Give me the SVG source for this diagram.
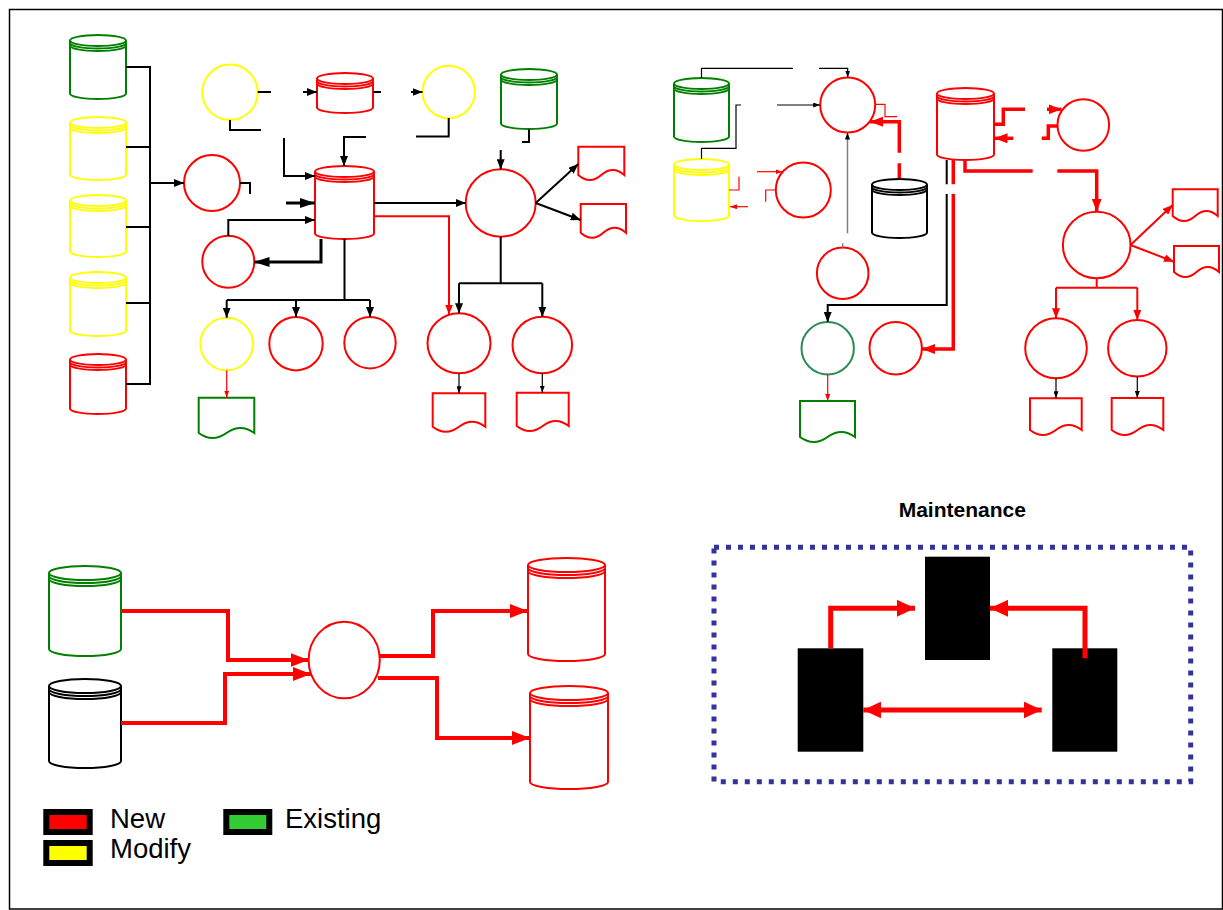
<svg xmlns="http://www.w3.org/2000/svg" width="1223" height="910" viewBox="0 0 1223 910">
<style>
.sh{fill:#fff;stroke-width:2}
.sh path{fill:none}
.red{stroke:#f00}.yel{stroke:#ff0}.grn{stroke:#008000}.blk{stroke:#000}.teal{stroke:#2e8b57}
.cn{fill:none;stroke-linejoin:miter}
.k2{stroke:#000;stroke-width:2}.k3{stroke:#000;stroke-width:3}.k1{stroke:#000;stroke-width:1.2}
.g1{stroke:#808080;stroke-width:1.5}
.r1{stroke:#f00;stroke-width:1.2}.r2{stroke:#f00;stroke-width:2}.r3{stroke:#f00;stroke-width:3.5}.r4{stroke:#f00;stroke-width:4}.r5{stroke:#f00;stroke-width:5}
.lbl{font-family:"Liberation Sans",Arial,sans-serif;fill:#000}
</style>
<defs>
<marker id="ab" markerUnits="userSpaceOnUse" markerWidth="10" markerHeight="8" viewBox="0 0 10 8" refX="10" refY="4" orient="auto"><path d="M0,0L10,4L0,8z" fill="#000"/></marker>
<marker id="abL" markerUnits="userSpaceOnUse" markerWidth="15" markerHeight="10" viewBox="0 0 15 10" refX="15" refY="5" orient="auto"><path d="M0,0L15,5L0,10z" fill="#000"/></marker>
<marker id="as" markerUnits="userSpaceOnUse" markerWidth="7" markerHeight="5" viewBox="0 0 7 5" refX="7" refY="2.5" orient="auto"><path d="M0,0L7,2.5L0,5z" fill="#000"/></marker>
<marker id="ars" markerUnits="userSpaceOnUse" markerWidth="7" markerHeight="5" viewBox="0 0 7 5" refX="7" refY="2.5" orient="auto"><path d="M0,0L7,2.5L0,5z" fill="#f00"/></marker>
<marker id="ar" markerUnits="userSpaceOnUse" markerWidth="10" markerHeight="8" viewBox="0 0 10 8" refX="10" refY="4" orient="auto"><path d="M0,0L10,4L0,8z" fill="#f00"/></marker>
<marker id="arL" markerUnits="userSpaceOnUse" markerWidth="13" markerHeight="10" viewBox="0 0 13 10" refX="13" refY="5" orient="auto"><path d="M0,0L13,5L0,10z" fill="#f00"/></marker>
<marker id="arM" markerUnits="userSpaceOnUse" markerWidth="18" markerHeight="14" viewBox="0 0 18 14" refX="18" refY="7" orient="auto"><path d="M0,0L18,7L0,14z" fill="#f00"/></marker>
<marker id="arX" markerUnits="userSpaceOnUse" markerWidth="18" markerHeight="17" viewBox="0 0 18 17" refX="18" refY="8.5" orient="auto-start-reverse"><path d="M0,0L18,8.5L0,17z" fill="#f00"/></marker>
</defs>
<rect x="0" y="0" width="1223" height="910" fill="#fff"/>
<rect x="9.5" y="9.5" width="1213" height="899.5" fill="none" stroke="#000" stroke-width="1.5"/>

<!-- cylinders -->
<g id="cyl1" class="sh grn"><ellipse cx="98" cy="40.5" rx="28" ry="5.5"/><path d="M70,43A28,5.5 0 0 0 126,43M70,45.5A28,5.5 0 0 0 126,45.5M70,40.5V93.5A28,5.5 0 0 0 126,93.5V40.5"/></g>
<g id="cyl2" class="sh yel"><ellipse cx="98" cy="122.5" rx="28" ry="5.5"/><path d="M70,125A28,5.5 0 0 0 126,125M70,127.5A28,5.5 0 0 0 126,127.5M70,122.5V174.5A28,5.5 0 0 0 126,174.5V122.5"/></g>
<g id="cyl3" class="sh yel"><ellipse cx="98" cy="200.5" rx="28" ry="5.5"/><path d="M70,203A28,5.5 0 0 0 126,203M70,205.5A28,5.5 0 0 0 126,205.5M70,200.5V251.5A28,5.5 0 0 0 126,251.5V200.5"/></g>
<g id="cyl4" class="sh yel"><ellipse cx="98" cy="277.5" rx="28" ry="5.5"/><path d="M70,280A28,5.5 0 0 0 126,280M70,282.5A28,5.5 0 0 0 126,282.5M70,277.5V330.5A28,5.5 0 0 0 126,330.5V277.5"/></g>
<g id="cyl5" class="sh red"><ellipse cx="98" cy="359.5" rx="28" ry="5.5"/><path d="M70,362A28,5.5 0 0 0 126,362M70,364.5A28,5.5 0 0 0 126,364.5M70,359.5V408.5A28,5.5 0 0 0 126,408.5V359.5"/></g>
<g id="cyl6" class="sh red"><ellipse cx="345" cy="78.5" rx="28" ry="5.5"/><path d="M317,81A28,5.5 0 0 0 373,81M317,83.5A28,5.5 0 0 0 373,83.5M317,78.5V107.5A28,5.5 0 0 0 373,107.5V78.5"/></g>
<g id="cyl7" class="sh grn"><ellipse cx="529" cy="74.5" rx="28" ry="5.5"/><path d="M501,77A28,5.5 0 0 0 557,77M501,79.5A28,5.5 0 0 0 557,79.5M501,74.5V123.5A28,5.5 0 0 0 557,123.5V74.5"/></g>
<g id="cyl8" class="sh red"><ellipse cx="344.5" cy="171.5" rx="29.5" ry="5.5"/><path d="M315,174A29.5,5.5 0 0 0 374,174M315,176.5A29.5,5.5 0 0 0 374,176.5M315,171.5V233.5A29.5,5.5 0 0 0 374,233.5V171.5"/></g>
<g id="cyl9" class="sh grn"><ellipse cx="701.5" cy="83.5" rx="27.5" ry="5.5"/><path d="M674,86A27.5,5.5 0 0 0 729,86M674,88.5A27.5,5.5 0 0 0 729,88.5M674,83.5V136.5A27.5,5.5 0 0 0 729,136.5V83.5"/></g>
<g id="cyl10" class="sh yel"><ellipse cx="701.5" cy="164.5" rx="27.5" ry="5.5"/><path d="M674,167A27.5,5.5 0 0 0 729,167M674,169.5A27.5,5.5 0 0 0 729,169.5M674,164.5V215.5A27.5,5.5 0 0 0 729,215.5V164.5"/></g>
<g id="cyl11" class="sh blk"><ellipse cx="899.5" cy="184.5" rx="27.5" ry="5.5"/><path d="M872,187A27.5,5.5 0 0 0 927,187M872,189.5A27.5,5.5 0 0 0 927,189.5M872,184.5V232.5A27.5,5.5 0 0 0 927,232.5V184.5"/></g>
<g id="cyl12" class="sh red"><ellipse cx="965.5" cy="93.5" rx="28.5" ry="5.5"/><path d="M937,96A28.5,5.5 0 0 0 994,96M937,98.5A28.5,5.5 0 0 0 994,98.5M937,93.5V154.5A28.5,5.5 0 0 0 994,154.5V93.5"/></g>
<g id="cyl13" class="sh grn"><ellipse cx="85" cy="573" rx="36" ry="7"/><path d="M49,576A36,7 0 0 0 121,576M49,579A36,7 0 0 0 121,579M49,573V649A36,7 0 0 0 121,649V573"/></g>
<g id="cyl14" class="sh blk"><ellipse cx="85" cy="686" rx="36" ry="7"/><path d="M49,689A36,7 0 0 0 121,689M49,692A36,7 0 0 0 121,692M49,686V761A36,7 0 0 0 121,761V686"/></g>
<g id="cyl15" class="sh red"><ellipse cx="566.5" cy="565" rx="38.5" ry="7"/><path d="M528,568A38.5,7 0 0 0 605,568M528,571A38.5,7 0 0 0 605,571M528,565V654A38.5,7 0 0 0 605,654V565"/></g>
<g id="cyl16" class="sh red"><ellipse cx="569" cy="693" rx="39" ry="7"/><path d="M530,696A39,7 0 0 0 608,696M530,699A39,7 0 0 0 608,699M530,693V782A39,7 0 0 0 608,782V693"/></g>

<!-- circles -->
<g id="c1" class="sh yel"><circle cx="230" cy="92.3" r="27.7"/></g>
<g id="c2" class="sh yel"><circle cx="448.7" cy="92" r="26.2"/></g>
<g id="c3" class="sh red"><circle cx="212" cy="183" r="28"/></g>
<g id="c4" class="sh red"><circle cx="228.3" cy="261.7" r="26"/></g>
<g id="c5" class="sh red"><ellipse cx="500.7" cy="203" rx="35" ry="33.7"/></g>
<g id="c6" class="sh yel"><circle cx="226.7" cy="344" r="26.3"/></g>
<g id="c7" class="sh red"><circle cx="296" cy="343.7" r="26.7"/></g>
<g id="c8" class="sh red"><circle cx="370" cy="342.7" r="25.7"/></g>
<g id="c9" class="sh red"><ellipse cx="459" cy="343.3" rx="31.5" ry="30"/></g>
<g id="c10" class="sh red"><ellipse cx="542.3" cy="345" rx="29.8" ry="28.3"/></g>
<g id="c11" class="sh red"><circle cx="847.7" cy="105" r="27.5"/></g>
<g id="c12" class="sh red"><circle cx="803.3" cy="190" r="27.5"/></g>
<g id="c13" class="sh red"><circle cx="842.7" cy="273.3" r="25.8"/></g>
<g id="c14" class="sh teal"><circle cx="827.7" cy="348.3" r="26.2"/></g>
<g id="c15" class="sh red"><circle cx="895.7" cy="348.3" r="26.2"/></g>
<g id="c16" class="sh red"><circle cx="1083.3" cy="125" r="25.8"/></g>
<g id="c17" class="sh red"><ellipse cx="1096.7" cy="245" rx="33.8" ry="33.3"/></g>
<g id="c18" class="sh red"><ellipse cx="1056" cy="348.3" rx="30.8" ry="30"/></g>
<g id="c19" class="sh red"><ellipse cx="1137.3" cy="348.3" rx="29.2" ry="28.3"/></g>
<g id="c20" class="sh red"><ellipse cx="344.2" cy="660" rx="35.6" ry="38.3"/></g>

<!-- documents -->
<g id="d1" class="sh red"><path d="M578.3,146.7H624.3V175Q612.8,165 601.3,175Q589.8,185 578.3,175Z"/></g>
<g id="d2" class="sh red"><path d="M580.7,204H626V232.7Q614.7,222.7 603.3,232.7Q592,242.7 580.7,232.7Z"/></g>
<g id="d3" class="sh red"><path d="M432.7,393.3H485.3V426.7Q472.2,416.7 459,426.7Q445.8,436.7 432.7,426.7Z"/></g>
<g id="d4" class="sh red"><path d="M516.7,392.7H568.7V426Q555.7,416 542.7,426Q529.7,436 516.7,426Z"/></g>
<g id="d5" class="sh grn"><path d="M198.7,397.7H254.3V433Q240.4,423 226.5,433Q212.6,443 198.7,433Z"/></g>
<g id="d6" class="sh grn"><path d="M800,401H855V437Q841.3,427 827.5,437Q813.8,447 800,437Z"/></g>
<g id="d7" class="sh red"><path d="M1172.7,189.3H1217.7V216Q1206.5,206 1195.2,216Q1184,226 1172.7,216Z"/></g>
<g id="d8" class="sh red"><path d="M1174,246H1219V272Q1207.8,262 1196.5,272Q1185.3,282 1174,272Z"/></g>
<g id="d9" class="sh red"><path d="M1030,398.3H1081.7V430Q1068.8,420 1055.9,430Q1042.9,440 1030,430Z"/></g>
<g id="d10" class="sh red"><path d="M1111.7,398H1163.3V430Q1150.4,420 1137.5,430Q1124.6,440 1111.7,430Z"/></g>

<!-- maintenance boxes -->
<g id="m1"><rect x="925" y="556.7" width="65" height="103.3" fill="#000"/></g>
<g id="m2"><rect x="797.7" y="648.3" width="65.6" height="103.4" fill="#000"/></g>
<g id="m3"><rect x="1052.3" y="648.3" width="65" height="103.4" fill="#000"/></g>

<!-- connectors -->
<g id="connectors" class="cn">
<path class="k2" d="M126,67H150V384H126M126,147H150M126,227H150M126,303H150"/>
<path class="k2" d="M150,183H184" marker-end="url(#ab)"/>
<path class="k2" d="M240,183H250V194"/>
<path class="k2" d="M257.7,92H271M230,120V130H261"/>
<path class="k2" d="M303,92H317" marker-end="url(#ab)"/>
<path class="k2" d="M373,92H381"/>
<path class="k2" d="M411,92H422.5" marker-end="url(#ab)"/>
<path class="k2" d="M448.7,118V136.5H416"/>
<path class="k2" d="M529,129.5V142H522"/>
<path class="k2" d="M366,137H344V166" marker-end="url(#ab)"/>
<path class="k2" d="M284,138V176H315" marker-end="url(#ab)"/>
<path class="k3" d="M286,203H315" marker-end="url(#abL)"/>
<path class="k2" d="M228.3,236V220H315" marker-end="url(#ab)"/>
<path class="k3" d="M321,239V262H254.5" marker-end="url(#abL)"/>
<path class="k2" d="M344.5,239V300M226.7,300H370"/>
<path class="k2" d="M226.7,300V317.7" marker-end="url(#ab)"/>
<path class="k2" d="M296,300V317" marker-end="url(#ab)"/>
<path class="k2" d="M370,300V317" marker-end="url(#ab)"/>
<path class="k2" d="M374,203H465.7" marker-end="url(#ab)"/>
<path class="r2" d="M374,216.3H449V314.5" marker-end="url(#ar)"/>
<path class="k2" d="M500.7,150V169.3" marker-end="url(#ab)"/>
<path class="k2" d="M535.7,203L578.3,164" marker-end="url(#ab)"/>
<path class="k2" d="M535.7,203L580.7,220" marker-end="url(#ab)"/>
<path class="k2" d="M500.7,236.7V283.3M459,283.3H542.3"/>
<path class="k2" d="M459,283.3V313.3" marker-end="url(#ab)"/>
<path class="k2" d="M542.3,283.3V316.7" marker-end="url(#ab)"/>
<path class="k1" d="M459,373.3V393.3" marker-end="url(#as)"/>
<path class="k1" d="M542.3,373.3V392.7" marker-end="url(#as)"/>
<path class="r1" d="M226.7,370.3V397.7" marker-end="url(#ars)"/>

<path class="k1" d="M701.5,78V68.3H793M819,68.3H847.7V77.5" marker-end="url(#as)"/>
<path class="k1" d="M701.5,159V148.3H736V105H741M777,105H820.2" marker-end="url(#as)"/>
<path class="r1" d="M875.2,104.3H885V116.7H897"/>
<path class="r3" d="M899.3,178.3V163.3M899.3,152.7V121.7H870" marker-end="url(#arL)"/>
<path class="g1" d="M847.5,233.3V132.5" marker-end="url(#as)"/>
<path class="g1" d="M842.7,243.3V247.5"/>
<path class="r1" d="M757,171.7H782.5" marker-end="url(#ars)"/>
<path class="r1" d="M776,190H765.7V201.7"/>
<path class="r1" d="M729,190H739V176.7"/>
<path class="r1" d="M748,206.7H730" marker-end="url(#ars)"/>
<path class="r3" d="M994,124.3H1003.3V109.3H1025"/>
<path class="r3" d="M1047,109.3H1061.5" marker-end="url(#arL)"/>
<path class="r3" d="M1013.3,138.3H994.5" marker-end="url(#arL)"/>
<path class="r3" d="M1041.7,138.3H1048.3V126H1058"/>
<path class="r3" d="M965,160V171H1032.7M1057.3,171H1096.7V211.7" marker-end="url(#arL)"/>
<path class="k2" d="M946.7,160V184.3M946.7,194V305H827.7V322.1" marker-end="url(#ab)"/>
<path class="r3" d="M953.3,160V184.3M953.3,194V349H922" marker-end="url(#arL)"/>
<path class="r1" d="M827.7,374.5V401" marker-end="url(#ars)"/>
<path class="r2" d="M1130.5,245L1172.7,205" marker-end="url(#ar)"/>
<path class="r2" d="M1130.5,245L1174,261.7" marker-end="url(#ar)"/>
<path class="r2" d="M1096.7,278.3V287.7M1056,287.7H1137.3"/>
<path class="r2" d="M1056,287.7V318.3" marker-end="url(#ar)"/>
<path class="r2" d="M1137.3,287.7V320" marker-end="url(#ar)"/>
<path class="k1" d="M1056,378.3V398.3" marker-end="url(#as)"/>
<path class="k1" d="M1137.3,376.6V398" marker-end="url(#as)"/>

<path class="r4" d="M121,611H228V660H308.6" marker-end="url(#arM)"/>
<path class="r4" d="M121,723H225V674H311" marker-end="url(#arM)"/>
<path class="r4" d="M379.8,656H433V611H528" marker-end="url(#arM)"/>
<path class="r4" d="M378,678H437V738H530" marker-end="url(#arM)"/>

<path class="r5" d="M830.7,648.3V608.3H915" marker-end="url(#arX)"/>
<path class="r5" d="M1085,658.3V608.3H990" marker-end="url(#arX)"/>
<path class="r5" d="M863.3,710H1041.7" marker-start="url(#arX)" marker-end="url(#arX)"/>
</g>

<!-- maintenance frame -->
<g id="maintenance">
<text class="lbl" x="962.3" y="517.3" font-size="21" font-weight="bold" text-anchor="middle">Maintenance</text>
<rect x="714" y="547.3" width="476.7" height="234.4" fill="none" stroke="#333399" stroke-width="5" stroke-dasharray="5 7"/>
</g>

<!-- legend -->
<g id="legend">
<rect x="46.3" y="812" width="43.4" height="20" fill="#f00" stroke="#000" stroke-width="6"/>
<rect x="46.3" y="843" width="43.4" height="20" fill="#ff0" stroke="#000" stroke-width="6"/>
<rect x="226.3" y="812" width="43" height="20" fill="#33cc33" stroke="#000" stroke-width="6"/>
<text class="lbl" x="110" y="828.3" font-size="27.5">New</text>
<text class="lbl" x="110" y="858.3" font-size="27.5">Modify</text>
<text class="lbl" x="285" y="828.3" font-size="27.5">Existing</text>
</g>
</svg>
